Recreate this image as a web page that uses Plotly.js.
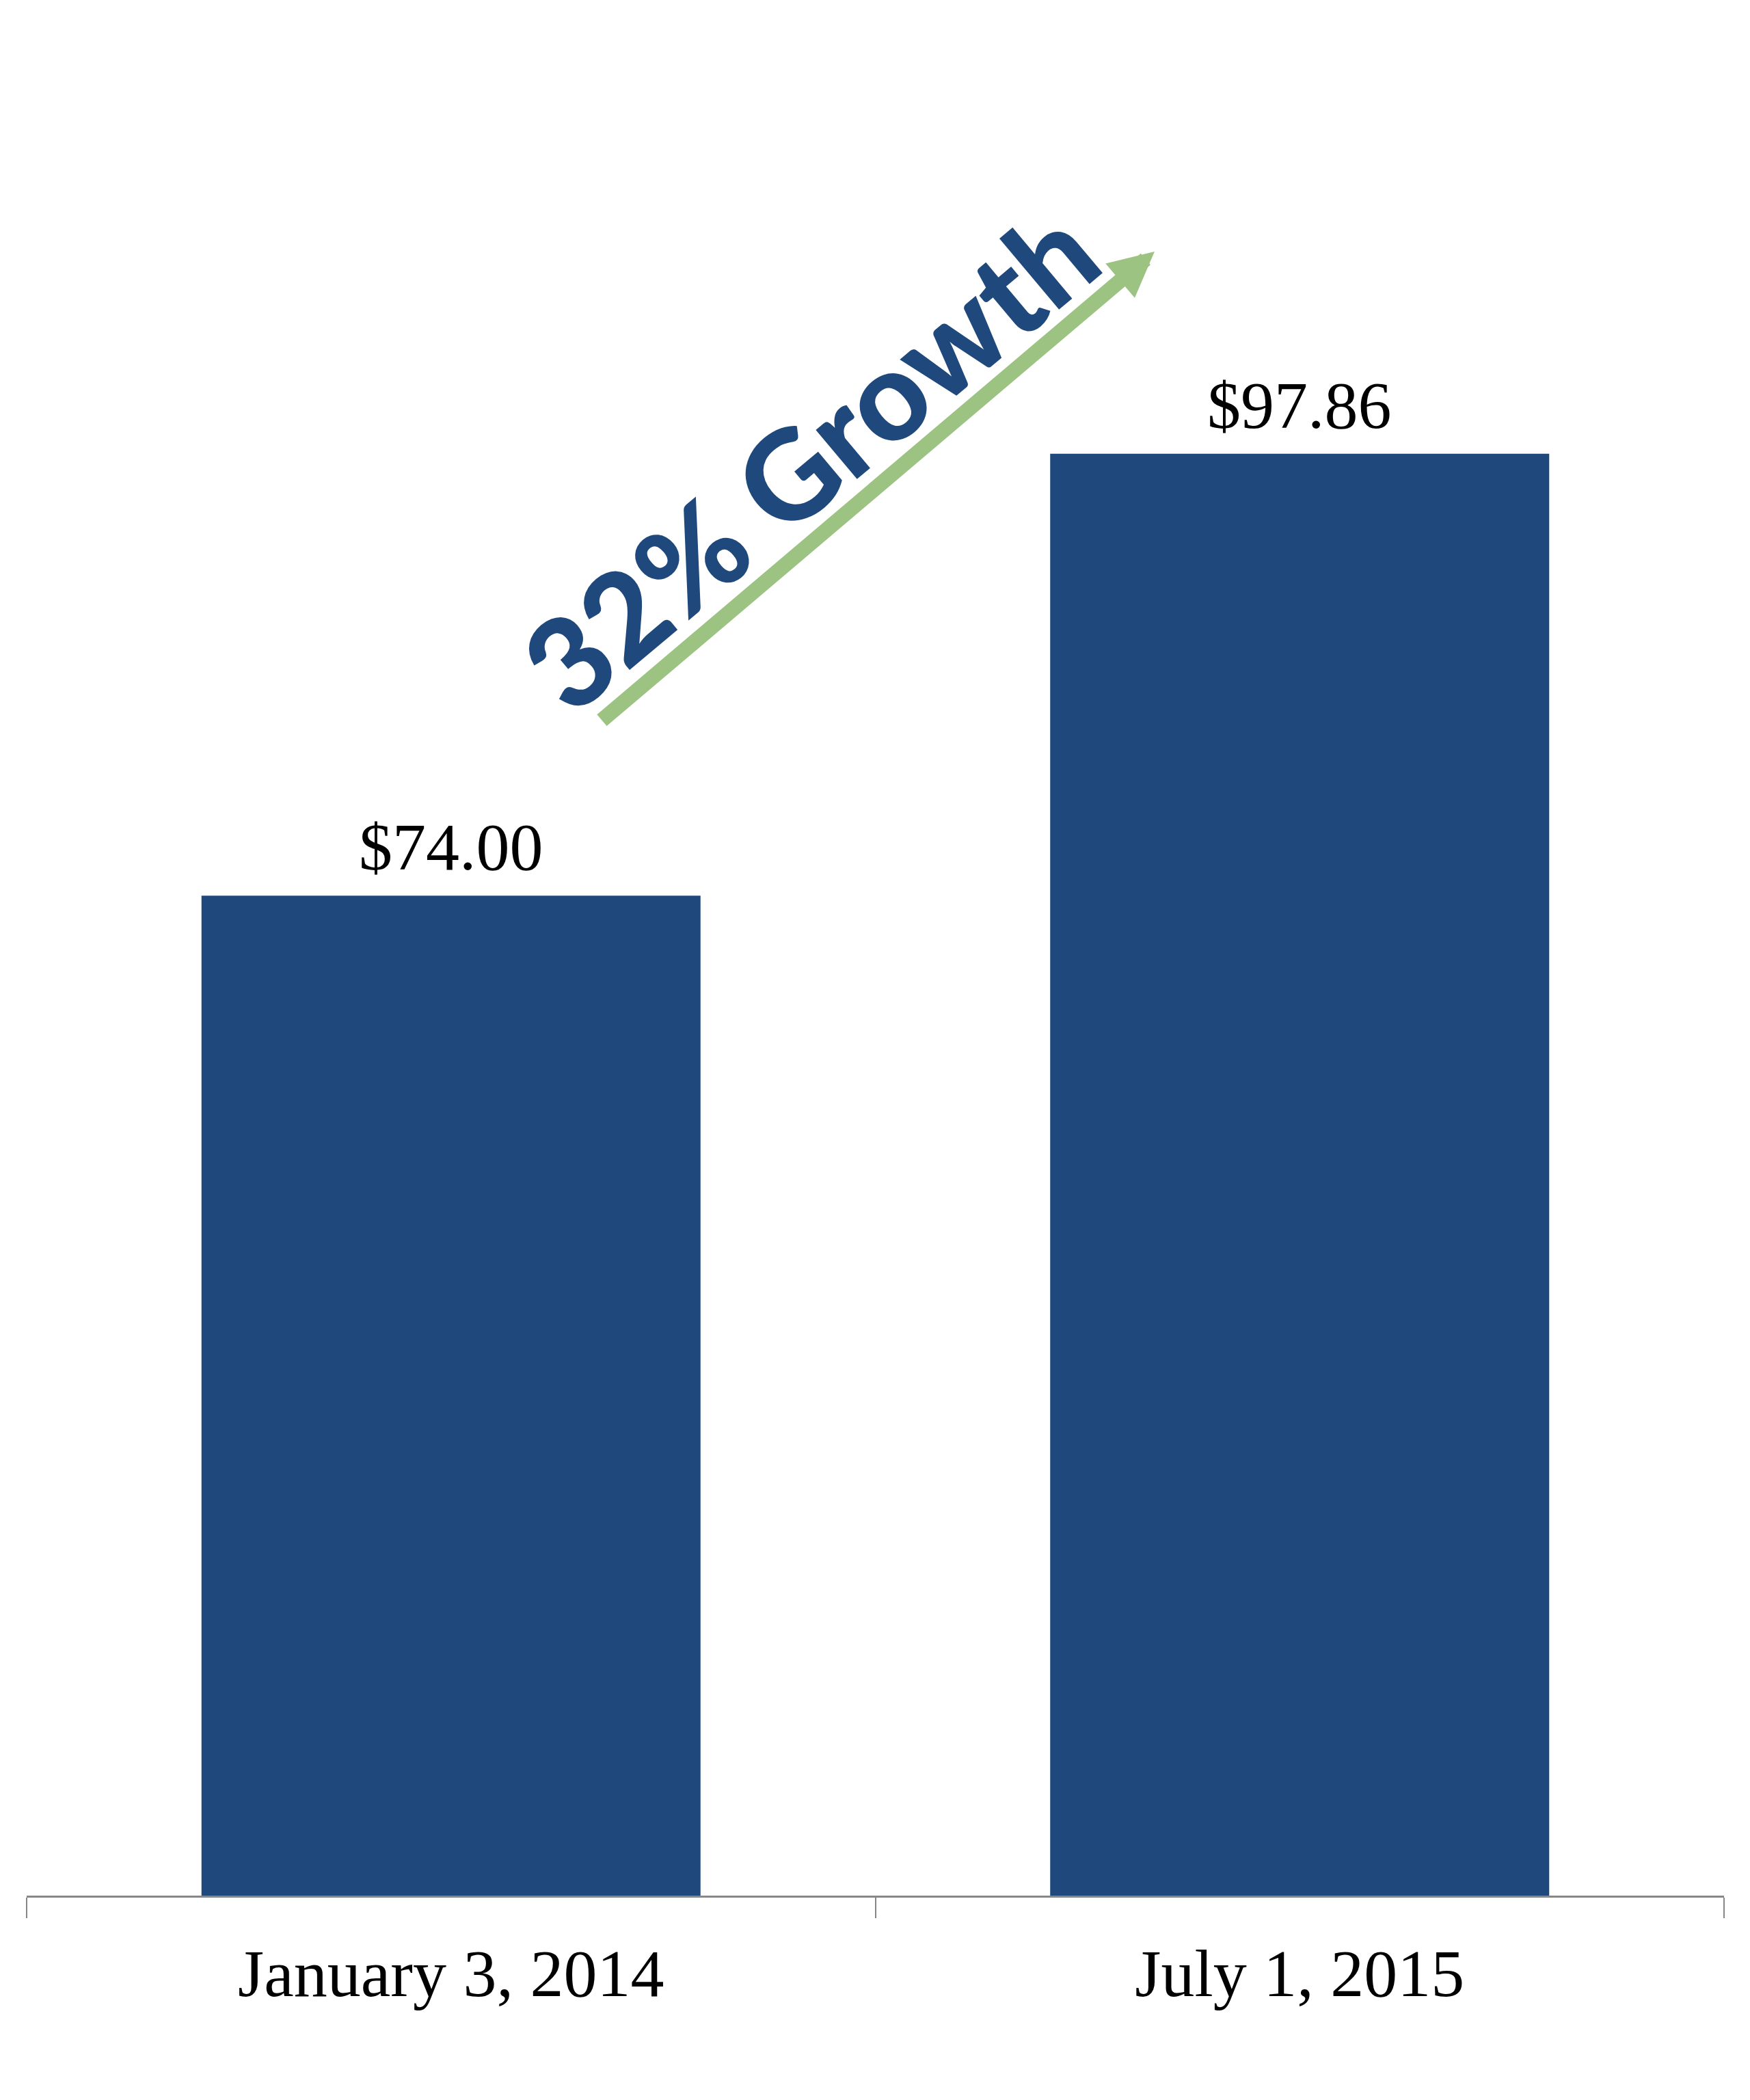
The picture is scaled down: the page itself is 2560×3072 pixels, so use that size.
<!DOCTYPE html>
<html><head><meta charset="utf-8">
<script src="https://cdn.plot.ly/plotly-3.0.1.min.js"></script>
<style>html,body{margin:0;padding:0;background:#fff}</style>
</head><body>
<div id="chart" style="width:2560px;height:3072px"></div>
<script>
const categories = ["January 3, 2014", "July 1, 2015"];
const prices = [74.00, 97.86];
const valueLabels = prices.map(v => "$" + v.toFixed(2));
const growthPct = Math.round((prices[1] / prices[0] - 1) * 100);
const growthLabel = growthPct + "% Growth";

const barColor = "#1F497D";
const arrowColor = "#9DC383";
const serif = "Liberation Serif, Times New Roman, serif";

const trace = {
  type: "bar",
  x: categories,
  y: prices,
  width: 0.588,
  marker: { color: barColor, line: { width: 0 } },
  hoverinfo: "skip"
};

const valueAnnotations = categories.map((c, i) => ({
  x: c, y: prices[i], xref: "x", yref: "y",
  text: valueLabels[i], showarrow: false,
  xanchor: "center", yanchor: "bottom", yshift: 15,
  font: { family: serif, size: 98, color: "#000" }
}));

const layout = {
  width: 2560, height: 3072,
  margin: { l: 39, r: 38, t: 64, b: 299 },
  paper_bgcolor: "#fff", plot_bgcolor: "#fff",
  showlegend: false,
  xaxis: {
    type: "category", range: [-0.5, 1.5],
    showline: true, linecolor: "#878787", linewidth: 3,
    ticks: "outside", tickson: "boundaries", ticklen: 30, tickwidth: 2, tickcolor: "#878787",
    ticklabelstandoff: 26,
    showgrid: false, zeroline: false,
    tickfont: { family: serif, size: 98, color: "#000" }
  },
  yaxis: {
    range: [20, 120], visible: false, showgrid: false, zeroline: false
  },
  annotations: valueAnnotations.concat([
    {
      xref: "paper", yref: "paper", x: 0.6645, y: 0.8878,
      axref: "pixel", ayref: "pixel", ax: -810, ay: 687,
      text: "", showarrow: true, arrowhead: 2, arrowsize: 0.6, arrowwidth: 22,
      arrowcolor: arrowColor, standoff: 0
    },
    {
      xref: "paper", yref: "paper", x: 0.4605, y: 0.777,
      xanchor: "center", yanchor: "middle",
      text: growthLabel, showarrow: false, textangle: -40,
      font: { family: "Lato, Open Sans, sans-serif", size: 182, color: barColor, weight: 900 }
    }
  ])
};

Plotly.newPlot("chart", [trace], layout, { staticPlot: true, displayModeBar: false });
</script>
</body></html>
